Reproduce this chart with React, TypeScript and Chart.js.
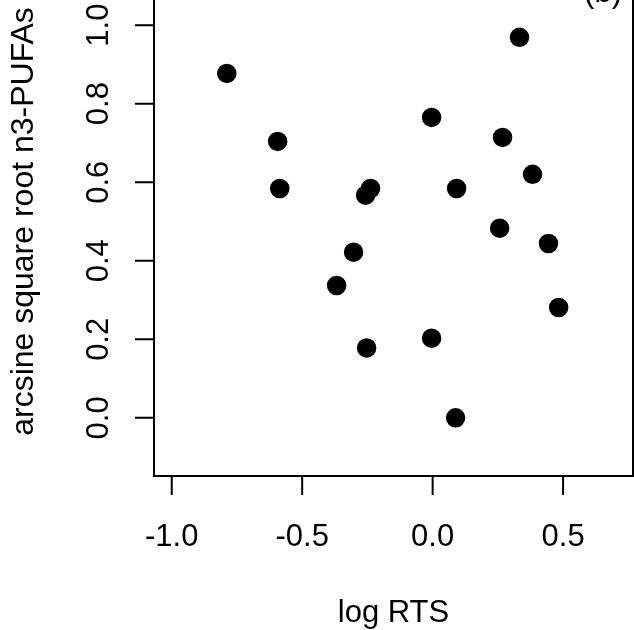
import React, { useEffect, useRef } from "react";
import { Chart, registerables } from "chart.js";

Chart.register(...registerables);

const logRTS = [-0.789, -0.594, -0.586, -0.368, -0.303, -0.257, -0.238, -0.253, -0.004, -0.004, 0.092, 0.088, 0.268, 0.257, 0.333, 0.383, 0.444, 0.483];
const arcsineN3 = [0.877, 0.704, 0.584, 0.337, 0.422, 0.567, 0.584, 0.178, 0.765, 0.203, 0.584, 0.0, 0.714, 0.483, 0.969, 0.62, 0.444, 0.281];

const xTickValues = [-1.0, -0.5, 0.0, 0.5];
const xTickLabels = ["-1.0", "-0.5", "0.0", "0.5"];
const yTickValues = [0.0, 0.2, 0.4, 0.6, 0.8, 1.0];
const yTickLabels = ["0.0", "0.2", "0.4", "0.6", "0.8", "1.0"];

const xTitle = "log RTS";
const yTitle = "arcsine square root n3-PUFAs";
const panelLabel = "(b)";

const FONT = "31px 'Liberation Sans', Arial, Helvetica, sans-serif";
const TITLE_FONT = "32px 'Liberation Sans', Arial, Helvetica, sans-serif";

const rAxesPlugin = {
  id: "rAxes",
  afterDraw(chart: any) {
    const ctx = chart.ctx;
    const area = chart.chartArea;
    const xs = chart.scales.x;
    const ys = chart.scales.y;
    ctx.save();
    ctx.strokeStyle = "#000";
    ctx.fillStyle = "#000";
    ctx.lineWidth = 2;
    ctx.lineCap = "butt";
    // box
    ctx.strokeRect(area.left, area.top, area.right - area.left, area.bottom - area.top);
    ctx.font = FONT;
    // x axis
    ctx.beginPath();
    const x0 = xs.getPixelForValue(xTickValues[0]);
    const x1 = xs.getPixelForValue(xTickValues[xTickValues.length - 1]);
    ctx.moveTo(x0, area.bottom);
    ctx.lineTo(x1, area.bottom);
    xTickValues.forEach((v) => {
      const px = xs.getPixelForValue(v);
      ctx.moveTo(px, area.bottom);
      ctx.lineTo(px, area.bottom + 19);
    });
    ctx.stroke();
    ctx.textAlign = "center";
    ctx.textBaseline = "alphabetic";
    xTickValues.forEach((v, i) => {
      ctx.fillText(xTickLabels[i], xs.getPixelForValue(v), area.bottom + 70);
    });
    ctx.fillText(xTitle, (area.left + area.right) / 2, area.bottom + 146);
    // y axis
    ctx.beginPath();
    const y0 = ys.getPixelForValue(yTickValues[0]);
    const y1 = ys.getPixelForValue(yTickValues[yTickValues.length - 1]);
    ctx.moveTo(area.left, y0);
    ctx.lineTo(area.left, y1);
    yTickValues.forEach((v) => {
      const py = ys.getPixelForValue(v);
      ctx.moveTo(area.left, py);
      ctx.lineTo(area.left - 19, py);
    });
    ctx.stroke();
    yTickValues.forEach((v, i) => {
      ctx.save();
      ctx.translate(area.left - 46, ys.getPixelForValue(v));
      ctx.rotate(-Math.PI / 2);
      ctx.textAlign = "center";
      ctx.fillText(yTickLabels[i], 0, 0);
      ctx.restore();
    });
    ctx.save();
    ctx.font = TITLE_FONT;
    ctx.translate(area.left - 121, (area.top + area.bottom) / 2);
    ctx.rotate(-Math.PI / 2);
    ctx.textAlign = "center";
    ctx.fillText(yTitle, 0, 0);
    ctx.restore();
    // panel label
    ctx.textAlign = "right";
    ctx.fillText(panelLabel, area.right - 11, area.top + 35);
    ctx.restore();
  },
};

export default function App() {
  const canvasRef = useRef<HTMLCanvasElement | null>(null);

  useEffect(() => {
    if (!canvasRef.current) return;
    const chart = new Chart(canvasRef.current, {
      type: "scatter",
      data: {
        datasets: [
          {
            data: logRTS.map((x, i) => ({ x, y: arcsineN3[i] })),
            backgroundColor: "#000",
            borderColor: "#000",
            borderWidth: 1.5,
            pointRadius: 9,
            pointHoverRadius: 9,
          },
        ],
      },
      options: {
        responsive: false,
        animation: false,
        devicePixelRatio: 1,
        layout: { autoPadding: false, padding: { left: 154, right: 1, top: 7, bottom: 154 } },
        scales: {
          x: { type: "linear", min: -1.068, max: 0.768, display: false },
          y: { type: "linear", min: -0.148, max: 1.148, display: false },
        },
        plugins: {
          legend: { display: false },
          tooltip: { enabled: false },
        },
      },
      plugins: [rAxesPlugin],
    });
    return () => chart.destroy();
  }, []);

  return (
    <div style={{ position: "absolute", left: 0, top: -40, width: 634, height: 670, background: "#fff" }}>
      <canvas ref={canvasRef} width={634} height={670} style={{ display: "block" }} />
    </div>
  );
}
